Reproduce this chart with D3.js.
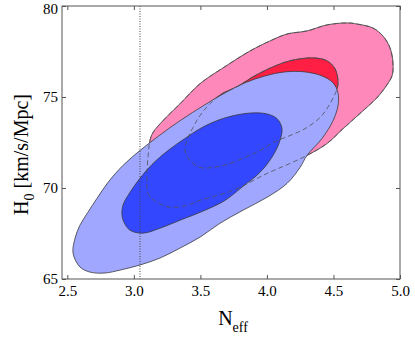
<!DOCTYPE html>
<html>
<head>
<meta charset="utf-8">
<script src="https://cdn.jsdelivr.net/npm/d3@7"></script>
<style>
  body { margin: 0; background: #fff; }
  svg { display: block; }
  text { font-family: "Liberation Serif", "Times New Roman", "DejaVu Serif", serif; fill: #000; }
</style>
</head>
<body>
<svg id="chart" width="415" height="338"></svg>
<script>
// contours, [N_eff, H0]
const pinkOuter = [
  [3.144, 73.05], [3.219, 73.70], [3.347, 74.63], [3.497, 75.73], [3.670, 76.60],
  [3.873, 77.53], [4.023, 78.08], [4.151, 78.46], [4.301, 78.63], [4.451, 78.96],
  [4.602, 79.07], [4.677, 79.01], [4.797, 78.79], [4.872, 78.35], [4.925, 77.70],
  [4.947, 76.88], [4.940, 76.16], [4.887, 75.51], [4.827, 74.96], [4.699, 74.09],
  [4.572, 73.26], [4.451, 72.44], [4.301, 71.79], [4.173, 71.35], [4.001, 70.80],
  [3.745, 69.87], [3.497, 69.32], [3.399, 69.05], [3.272, 68.94], [3.174, 69.21],
  [3.106, 69.71], [3.099, 70.69], [3.106, 71.68], [3.121, 72.61]
];
const redInner = [
  [3.775, 75.56], [3.895, 76.11], [4.046, 76.66], [4.173, 76.99], [4.346, 77.15],
  [4.451, 76.99], [4.512, 76.55], [4.534, 75.89], [4.527, 75.45], [4.474, 74.63],
  [4.399, 73.87], [4.286, 73.26], [4.173, 72.88], [4.061, 72.55], [3.948, 72.06],
  [3.835, 71.68], [3.723, 71.35], [3.595, 71.13], [3.497, 71.13], [3.422, 71.51],
  [3.384, 72.06], [3.399, 72.61], [3.444, 73.32], [3.497, 73.98], [3.572, 74.63],
  [3.662, 75.18]
];
const blueOuter = [
  [2.543, 66.42], [2.558, 67.24], [2.595, 67.96], [2.655, 68.67], [2.723, 69.43],
  [2.806, 70.31], [2.918, 71.24], [3.046, 72.06], [3.181, 72.83], [3.347, 73.70],
  [3.535, 74.58], [3.685, 75.23], [3.835, 75.78], [3.986, 76.16], [4.136, 76.38],
  [4.286, 76.38], [4.414, 76.16], [4.497, 75.78], [4.534, 75.23], [4.534, 74.52],
  [4.497, 73.70], [4.414, 72.72], [4.301, 71.79], [4.249, 71.13], [4.151, 70.25],
  [4.001, 69.49], [3.820, 68.78], [3.647, 68.06], [3.497, 67.30], [3.347, 66.70],
  [3.196, 66.15], [3.046, 65.77], [2.896, 65.49], [2.783, 65.33], [2.670, 65.38],
  [2.595, 65.66]
];
const blueInner = [
  [2.911, 68.50], [2.918, 69.05], [2.971, 69.76], [3.046, 70.53], [3.136, 71.29],
  [3.257, 72.06], [3.384, 72.72], [3.497, 73.26], [3.647, 73.76], [3.835, 74.09],
  [3.986, 74.09], [4.076, 73.81], [4.113, 73.26], [4.098, 72.61], [4.046, 71.79],
  [3.948, 70.86], [3.820, 70.09], [3.685, 69.32], [3.535, 68.78], [3.347, 68.23],
  [3.196, 67.79], [3.069, 67.52], [2.971, 67.68], [2.926, 68.12]
];
const nStandard = 3.046;
const xTicks = [2.5, 3.0, 3.5, 4.0, 4.5, 5.0];
const yTicks = [65, 70, 75, 80];

const serif = '"Liberation Serif", "Times New Roman", "DejaVu Serif", serif';
const margin = { top: 6, right: 15, bottom: 59, left: 62 };
const width = 415 - margin.left - margin.right;
const height = 338 - margin.top - margin.bottom;

const svg = d3.select("#chart");
const g = svg.append("g").attr("transform", `translate(${margin.left},${margin.top})`);

const x = d3.scaleLinear().domain([2.46, 5.0]).range([0, width]);
const y = d3.scaleLinear().domain([65, 80]).range([height, 0]);

const line = d3.line()
  .x(d => x(d[0]))
  .y(d => y(d[1]))
  .curve(d3.curveCatmullRomClosed.alpha(0.5));

g.append("defs").append("clipPath").attr("id", "clip")
  .append("rect").attr("width", width).attr("height", height);

const plot = g.append("g").attr("clip-path", "url(#clip)");

const fills = [
  [pinkOuter, "#ff88bb"],
  [redInner, "#ff1f44"],
  [blueOuter, "#9fa7ff"],
  [blueInner, "#3347ff"]
];
fills.forEach(([data, color]) => {
  plot.append("path")
    .datum(data)
    .attr("d", line)
    .attr("fill", color)
    .attr("stroke", "#3a3a3a")
    .attr("stroke-width", 0.8);
});

// pink contours showing through the blue ones
[pinkOuter, redInner].forEach(data => {
  plot.append("path")
    .datum(data)
    .attr("d", line)
    .attr("fill", "none")
    .attr("stroke", "#505050")
    .attr("stroke-width", 0.8)
    .attr("stroke-dasharray", "5,3");
});

plot.append("line")
  .attr("x1", x(nStandard)).attr("x2", x(nStandard))
  .attr("y1", 0).attr("y2", height)
  .attr("stroke", "#444")
  .attr("stroke-width", 1)
  .attr("stroke-dasharray", "1,1.5");

// axes, ticks inward on all sides
const styleAxis = sel => {
  sel.attr("font-family", serif).attr("font-size", 15);
  sel.select(".domain").remove();
  sel.selectAll(".tick line").attr("stroke", "#555");
  sel.selectAll(".tick text").attr("fill", "#000");
};

g.append("g")
  .attr("transform", `translate(0,${height})`)
  .call(d3.axisBottom(x).tickValues(xTicks).tickFormat(d3.format(".1f"))
    .tickSizeInner(-4).tickSizeOuter(0).tickPadding(6))
  .call(styleAxis);

g.append("g")
  .call(d3.axisTop(x).tickValues(xTicks).tickFormat("")
    .tickSizeInner(-4).tickSizeOuter(0))
  .call(styleAxis);

g.append("g")
  .call(d3.axisLeft(y).tickValues(yTicks).tickFormat(d3.format("d"))
    .tickSizeInner(-4).tickSizeOuter(0).tickPadding(4))
  .call(styleAxis)
  .call(a => a.selectAll(".tick text").filter(d => d === 80).attr("dy", "0.5em"));

g.append("g")
  .attr("transform", `translate(${width},0)`)
  .call(d3.axisRight(y).tickValues(yTicks).tickFormat("")
    .tickSizeInner(-4).tickSizeOuter(0))
  .call(styleAxis);

g.append("rect")
  .attr("width", width).attr("height", height)
  .attr("fill", "none")
  .attr("stroke", "#555")
  .attr("stroke-width", 1);

// axis titles
const xt = svg.append("text")
  .attr("x", margin.left + width / 2 + 2)
  .attr("y", 325)
  .attr("text-anchor", "middle")
  .attr("font-family", serif)
  .style("font-size", "20px");
xt.append("tspan").text("N");
xt.append("tspan").attr("dy", 7).style("font-size", "14px").text("eff");

const yt = svg.append("text")
  .attr("transform", `translate(28,${margin.top + height / 2 + 12}) rotate(-90)`)
  .attr("text-anchor", "middle")
  .attr("font-family", serif)
  .style("font-size", "20px");
yt.append("tspan").text("H");
yt.append("tspan").attr("dy", 6).style("font-size", "14px").text("0");
yt.append("tspan").attr("dy", -6).text(" [km/s/Mpc]");
</script>
</body>
</html>
